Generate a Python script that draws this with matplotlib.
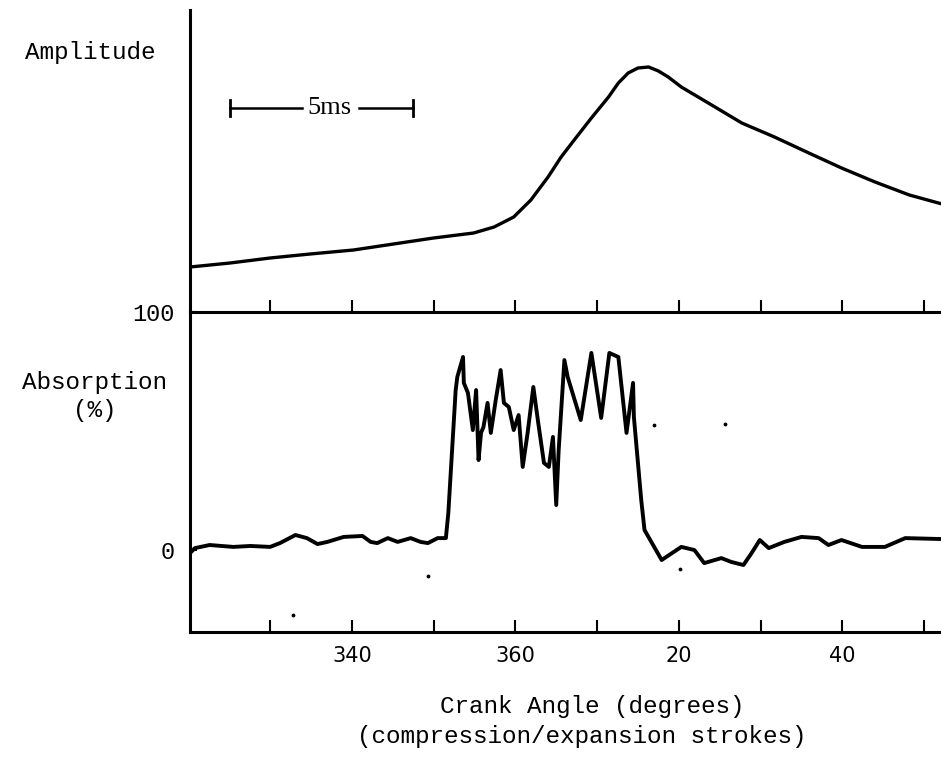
import matplotlib
matplotlib.use("Agg")
import matplotlib.pyplot as plt

# ---------------- data ----------------
# crank angle in continuous degrees (360 -> TDC, 380 shown as "20", ...)
amp_angle = [320.2, 325.1, 330.0, 334.9, 340.2, 345.1, 350.0, 354.9, 357.4, 359.8,
             361.9, 364.0, 365.6, 367.2, 369.3, 371.4, 372.6, 373.8, 375.0, 376.3,
             377.5, 378.7, 380.3, 383.6, 387.7, 391.7, 395.9, 399.9, 404.0, 408.2,
             412.2]
amp_value = [45, 49, 54, 58, 62, 68, 74, 79, 85, 95,
             112, 135, 155, 172, 194, 215, 229, 239, 244, 245,
             241, 235, 225, 209, 189, 175, 159, 144, 130, 117,
             108]

abs_angle = [320.2, 320.8, 322.6, 325.5, 327.6, 330.0, 331.2, 333.1, 334.5, 335.8,
             337.0, 339.0, 341.3, 342.3, 343.1, 344.4, 345.6, 347.2, 348.4, 349.3,
             350.5, 351.5, 351.8, 352.7, 352.9, 353.6, 353.7, 354.2, 354.8, 355.2,
             355.5, 355.8, 356.1, 356.6, 357.0, 357.6, 358.2, 358.6, 359.2, 359.8,
             360.4, 360.9, 361.5, 362.2, 362.8, 363.5, 364.1, 364.6, 365.0, 365.3,
             366.0, 366.4, 368.0, 369.3, 370.5, 371.5, 372.6, 373.6, 374.4, 374.5,
             375.4, 375.8, 377.9, 380.3, 381.9, 383.1, 385.2, 386.4, 387.9, 388.9,
             389.9, 391.0, 392.9, 395.0, 397.1, 398.3, 399.9, 402.4, 405.2, 407.7,
             412.2]
abs_value = [-1.3, 0.8, 2.1, 1.3, 1.7, 1.3, 2.9, 6.3, 5.0, 2.5,
             3.4, 5.5, 5.9, 3.4, 2.9, 5.0, 3.4, 5.0, 3.4, 2.9,
             5.0, 5.0, 15.5, 67.2, 72.7, 81.1, 70.2, 66.0, 50.4, 67.2,
             37.8, 49.2, 51.7, 61.8, 49.2, 63.0, 75.6, 61.8, 60.1, 50.4,
             56.7, 34.9, 49.2, 68.5, 53.4, 36.6, 34.9, 47.5, 18.9, 42.0,
             79.8, 72.7, 54.6, 82.8, 55.5, 82.8, 81.1, 49.2, 70.2, 55.9,
             21.0, 8.4, -4.2, 1.3, 0.0, -5.5, -3.4, -5.0, -6.3, -1.3,
             4.2, 0.8, 3.4, 5.5, 5.0, 2.1, 4.2, 1.3, 1.3, 5.0,
             4.6]

# stray specks visible in the scanned figure
speck_angle = [332.8, 349.3, 377.0, 385.6, 380.2]
speck_value = [-27.3, -10.9, 52.5, 52.9, -8.0]

x_ticks = [330, 340, 350, 360, 370, 380, 390, 400, 410]
x_tick_labels = ["", "340", "", "360", "", "20", "", "40", ""]
y_ticks = [0, 100]
y_tick_labels = ["0", "100"]

scale_bar = (325.1, 347.5)   # 5 ms in crank-angle degrees
scale_label = "5ms"

# ---------------- figure ----------------
W, H = 941, 758
fig = plt.figure(figsize=(W / 100, H / 100), dpi=100)
mono = "Liberation Mono"
sans = "DejaVu Sans"

def fx(px):
    return px / W

def fy(py):
    return 1 - py / H

ax_top = fig.add_axes([fx(190), fy(312), fx(941 - 190) + 0.002, (312 - 10) / H])
ax_bot = fig.add_axes([fx(190), fy(632), fx(941 - 190) + 0.002, (632 - 312) / H])

xlim = (320.2, 412.3)
spine_lw = 2.2

for ax in (ax_top, ax_bot):
    ax.set_xlim(*xlim)
    ax.spines["right"].set_visible(False)
    ax.spines["top"].set_visible(False)
    ax.spines["left"].set_linewidth(spine_lw)
    ax.spines["bottom"].set_linewidth(spine_lw)
    ax.set_facecolor("none")
    ax.set_xticks(x_ticks)
    ax.tick_params(axis="x", direction="in", length=9, width=1.5, color="black")

# top panel
ax_top.plot(amp_angle, amp_value, color="black", lw=2.4, solid_capstyle="round",
            solid_joinstyle="round")
ax_top.set_ylim(0, 302)
ax_top.set_yticks([])
ax_top.set_xticklabels([])

# scale bar
sb_y = 204
text_x = 337.2
gap_half = 3.3
ax_top.plot([scale_bar[0], text_x - gap_half], [sb_y, sb_y], color="black", lw=1.8)
ax_top.plot([text_x + gap_half + 0.4, scale_bar[1]], [sb_y, sb_y], color="black", lw=1.8)
for xb in scale_bar:
    ax_top.plot([xb, xb], [sb_y - 8, sb_y + 8], color="black", lw=2.0)
ax_top.text(text_x, sb_y, scale_label, ha="center", va="center",
            fontsize=19, family="Liberation Serif")

# bottom panel
ax_bot.plot(abs_angle, abs_value, color="black", lw=2.8, solid_joinstyle="round",
            solid_capstyle="round")
ax_bot.scatter(speck_angle, speck_value, s=3, color="black", zorder=3)
ax_bot.set_ylim(-34.45, 100)
ax_bot.set_yticks(y_ticks)
ax_bot.set_yticklabels(y_tick_labels, family=mono, fontsize=17)
ax_bot.tick_params(axis="y", direction="in", length=5, width=1.5, pad=11)
ax_bot.set_xticklabels(x_tick_labels, family=sans, fontsize=15)
ax_bot.tick_params(axis="x", pad=10)

# labels
fig.text(fx(90), fy(52), "Amplitude", ha="center", va="center", family=mono, fontsize=17.5)
fig.text(fx(95), fy(383), "Absorption", ha="center", va="center", family=mono, fontsize=17.5)
fig.text(fx(95), fy(410), "(%)", ha="center", va="center", family=mono, fontsize=17.5)
fig.text(fx(592), fy(706), "Crank Angle (degrees)", ha="center", va="center",
         family=mono, fontsize=17.5)
fig.text(fx(582), fy(737), "(compression/expansion strokes)", ha="center", va="center",
         family=mono, fontsize=17.5)

fig.savefig("out.png", dpi=100, facecolor="white")
